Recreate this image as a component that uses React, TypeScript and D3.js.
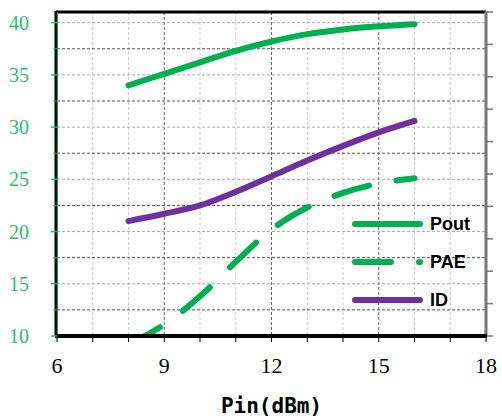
import * as d3 from "d3";

const W = 502;
const H = 419;

// Pin (dBm) sweep
const pin = [8, 9, 10, 11, 12, 13, 14, 15, 16];
const pout = [34.0, 35.1, 36.2, 37.3, 38.2, 38.9, 39.35, 39.65, 39.85];
const pae = [9.2, 11.1, 13.8, 17.1, 20.2, 22.3, 23.7, 24.6, 25.1];
const idc = [21.0, 21.7, 22.5, 23.8, 25.3, 26.8, 28.2, 29.5, 30.6];

const xTicks = [6, 9, 12, 15, 18];
const yTicks = [10, 15, 20, 25, 30, 35, 40];
const legendNames = ["Pout", "PAE", "ID"];

const GREEN = "#00b050";
const PURPLE = "#7030a0";
const LABEL_GREEN = "#2ebd6e";

const left = 57;
const right = 486;
const top = 12;
const bottom = 336;

export default function App() {
  const x = d3.scaleLinear().domain([6, 18]).range([left, right]);
  const y = d3.scaleLinear().domain([10, 41.02]).range([bottom, top]);
  const yRight = d3.scaleLinear().domain([0, 10]).range([bottom, top]);

  const line = (vals: number[]) =>
    d3
      .line<number>()
      .x((_, i) => x(pin[i]))
      .y((d) => y(d))
      .curve(d3.curveMonotoneX)(vals) || "";

  const xMinor = d3.range(7, 18);
  const yGrid = d3.range(12.5, 40.1, 2.5);
  const xAll = d3.range(6, 18.1, 1);
  const yMinor = d3.range(12.5, 40, 5);

  const series = [
    { name: legendNames[0], vals: pout, color: GREEN, dash: undefined },
    { name: legendNames[1], vals: pae, color: GREEN, dash: "36 28" },
    { name: legendNames[2], vals: idc, color: PURPLE, dash: undefined },
  ];

  return (
    <svg
      width={W}
      height={H}
      style={{ position: "absolute", left: 0, top: 0, background: "#fff" }}
    >
      <defs>
        <clipPath id="plot">
          <rect x={left} y={top} width={right - left} height={bottom - top} />
        </clipPath>
      </defs>

      {/* grid */}
      <g strokeDasharray="3 2" strokeWidth={1}>
        {xMinor.map((v) => (
          <line
            key={"gx" + v}
            x1={x(v)}
            x2={x(v)}
            y1={top}
            y2={bottom}
            stroke={v % 3 === 0 ? "#666" : "#ccc"}
          />
        ))}
        {yGrid.map((v) => (
          <line
            key={"gy" + v}
            x1={left}
            x2={right}
            y1={y(v)}
            y2={y(v)}
            stroke={v % 5 === 0 ? "#aaa" : "#555"}
          />
        ))}
      </g>

      {/* data */}
      <g clipPath="url(#plot)" fill="none" strokeWidth={6} strokeLinecap="round">
        {series.map((s) => (
          <path
            key={s.name}
            d={line(s.vals)}
            stroke={s.color}
            strokeDasharray={s.dash}
          />
        ))}
      </g>

      {/* frame */}
      <line x1={left - 1} x2={right} y1={top} y2={top} stroke="#000" strokeWidth={3} />
      <line x1={right} x2={right} y1={top - 1} y2={bottom} stroke="#777" strokeWidth={3} />
      {yRight.ticks(10).map((t) => (
        <line
          key={"rt" + t}
          x1={right}
          x2={right + 7}
          y1={yRight(t)}
          y2={yRight(t)}
          stroke="#777"
          strokeWidth={1.5}
        />
      ))}
      <line x1={left - 1} x2={left - 1} y1={top - 1} y2={bottom} stroke="#000" strokeWidth={3} />
      <line x1={left + 0.5} x2={left + 0.5} y1={top} y2={bottom} stroke={GREEN} strokeWidth={1} />

      {/* x axis */}
      <line x1={left - 2} x2={right + 1} y1={bottom} y2={bottom} stroke="#000" strokeWidth={4} />
      {xAll.map((v) => (
        <line
          key={"xt" + v}
          x1={x(v)}
          x2={x(v)}
          y1={bottom}
          y2={bottom + 6}
          stroke="#000"
          strokeWidth={1}
        />
      ))}
      {xTicks.map((v) => (
        <text
          key={"xl" + v}
          x={x(v)}
          y={373}
          textAnchor="middle"
          fontFamily="'Liberation Serif', serif"
          fontSize={22}
          fill="#000"
        >
          {v}
        </text>
      ))}
      <text
        x={(left + right) / 2}
        y={413}
        textAnchor="middle"
        fontFamily="'DejaVu Sans Mono', monospace"
        fontWeight="bold"
        fontSize={21}
        fill="#000"
      >
        Pin(dBm)
      </text>

      {/* y axis ticks */}
      {yTicks.map((v) => (
        <g key={"yt" + v}>
          <line x1={left - 6} x2={left} y1={y(v)} y2={y(v)} stroke={LABEL_GREEN} strokeWidth={1.5} />
          <text
            x={29}
            y={y(v)}
            dy="0.35em"
            textAnchor="end"
            fontFamily="'Liberation Serif', serif"
            fontSize={20}
            fill={LABEL_GREEN}
          >
            {v}
          </text>
        </g>
      ))}
      {yMinor.map((v) => (
        <line key={"ym" + v} x1={left - 4} x2={left} y1={y(v)} y2={y(v)} stroke={LABEL_GREEN} strokeWidth={1} />
      ))}

      {/* legend */}
      {series.map((s, i) => {
        const ly = 224 + i * 38;
        return (
          <g key={"lg" + s.name}>
            <line
              x1={355}
              x2={420}
              y1={ly}
              y2={ly}
              stroke={s.color}
              strokeWidth={6}
              strokeLinecap="round"
              strokeDasharray={s.dash}
            />
            <text
              x={430}
              y={ly}
              dy="0.36em"
              fontFamily="'Liberation Sans', Arial, sans-serif"
              fontWeight="bold"
              fontSize={18}
              fill="#000"
            >
              {s.name}
            </text>
          </g>
        );
      })}
    </svg>
  );
}
